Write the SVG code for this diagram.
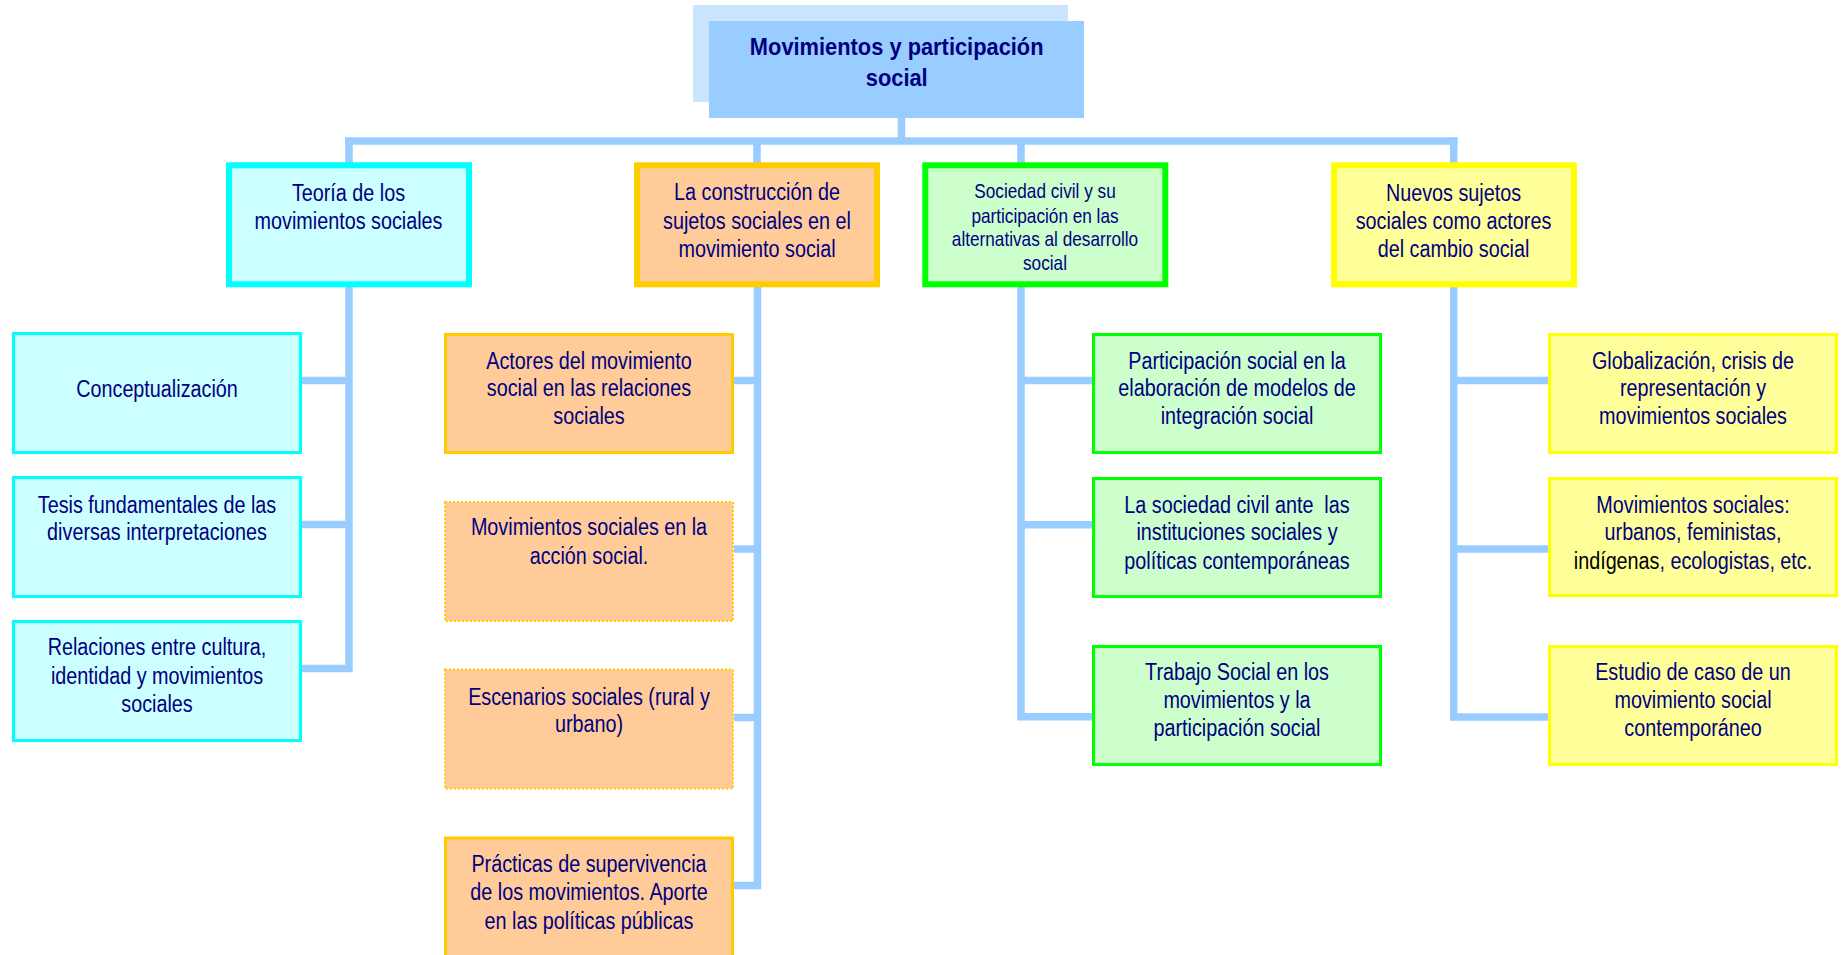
<svg xmlns="http://www.w3.org/2000/svg" width="1847" height="955" viewBox="0 0 1847 955">
<style>
.t{font-family:"Liberation Sans",Arial,sans-serif;font-size:23px;fill:#000080;text-anchor:middle}
.ts{font-size:20px}
.title{font-family:"Liberation Sans",Arial,sans-serif;font-size:23px;font-weight:bold;fill:#000080;text-anchor:middle}
.conn{fill:none;stroke:#99CCFF;stroke-width:7.5;stroke-linejoin:miter;stroke-linecap:butt}
.cyan1{fill:#CCFFFF;stroke:#00FFFF;stroke-width:6}
.cyan2{fill:#CCFFFF;stroke:#00FFFF;stroke-width:3}
.or1{fill:#FFCC99;stroke:#FFCC00;stroke-width:6}
.or2{fill:#FFCC99;stroke:#FFCC00;stroke-width:3}
.ord{fill:#FFCC99;stroke:#FFCC00;stroke-width:2;stroke-dasharray:2 2}
.gr1{fill:#CCFFCC;stroke:#00FF00;stroke-width:6}
.gr2{fill:#CCFFCC;stroke:#00FF00;stroke-width:3}
.ye1{fill:#FFFF99;stroke:#FFFF00;stroke-width:6}
.ye2{fill:#FFFF99;stroke:#FFFF00;stroke-width:3}
</style>
<rect width="1847" height="955" fill="#FFFFFF"/>
<g id="connectors">
<path class="conn" d="M901.5,118 V141"/>
<path class="conn" d="M345,141 H1457.5"/>
<path class="conn" d="M349,137.5 V163 M757,141 V163 M1021,141 V163 M1453.7,137.5 V163"/>
<path class="conn" d="M349,287 V668.5 H302 M302,380.5 H349 M302,524.5 H349"/>
<path class="conn" d="M757.5,287 V885.5 H734 M734,380.5 H757.5 M734,549 H757.5 M734,717.5 H757.5"/>
<path class="conn" d="M1021,287 V720 M1021,380.5 H1092 M1021,524.7 H1092 M1017.25,716.7 H1092"/>
<path class="conn" d="M1453.7,287 V720 M1453.7,380.5 H1548 M1453.7,549 H1548 M1449.95,717 H1548"/>
</g>
<g id="title">
<rect x="693" y="5" width="375" height="97" fill="#CCE5FF"/>
<rect x="709" y="21" width="375" height="97" fill="#99CCFF"/>
<text class="title" transform="translate(896.7 0) scale(0.95 1)"><tspan x="0" y="55">Movimientos y participación</tspan><tspan x="0" y="86">social</tspan></text>
</g>
<g id="n-teoria">
<rect class="cyan1" x="229" y="165.3" width="240" height="119"/>
<text class="t" transform="translate(348.5 0) scale(0.86 1)"><tspan x="0" y="201.3">Teoría de los</tspan><tspan x="0" y="228.7">movimientos sociales</tspan></text>
</g>
<g id="n-construccion">
<rect class="or1" x="637" y="165.3" width="240" height="119"/>
<text class="t" transform="translate(757 0) scale(0.86 1)"><tspan x="0" y="200.3">La construcción de</tspan><tspan x="0" y="228.7">sujetos sociales en el</tspan><tspan x="0" y="257">movimiento social</tspan></text>
</g>
<g id="n-sociedad">
<rect class="gr1" x="925.3" y="165.3" width="240" height="119"/>
<text class="t ts" transform="translate(1045 0) scale(0.86 1)"><tspan x="0" y="198">Sociedad civil y su</tspan><tspan x="0" y="222.7">participación en las</tspan><tspan x="0" y="246">alternativas al desarrollo</tspan><tspan x="0" y="270.3">social</tspan></text>
</g>
<g id="n-nuevos">
<rect class="ye1" x="1334" y="165.3" width="240" height="119"/>
<text class="t" transform="translate(1453.5 0) scale(0.86 1)"><tspan x="0" y="201.3">Nuevos sujetos</tspan><tspan x="0" y="228.7">sociales como actores</tspan><tspan x="0" y="257">del cambio social</tspan></text>
</g>
<g id="n-conceptualizacion">
<rect class="cyan2" x="13.5" y="333.5" width="287" height="119"/>
<text class="t" transform="translate(157 0) scale(0.86 1)" x="0" y="397">Conceptualización</text>
</g>
<g id="n-tesis">
<rect class="cyan2" x="13.5" y="477.5" width="287" height="119"/>
<text class="t" transform="translate(157 0) scale(0.86 1)"><tspan x="0" y="512.7">Tesis fundamentales de las</tspan><tspan x="0" y="540">diversas interpretaciones</tspan></text>
</g>
<g id="n-relaciones">
<rect class="cyan2" x="13.5" y="621.5" width="287" height="119"/>
<text class="t" transform="translate(157 0) scale(0.86 1)"><tspan x="0" y="655.3">Relaciones entre cultura,</tspan><tspan x="0" y="683.7">identidad y movimientos</tspan><tspan x="0" y="712">sociales</tspan></text>
</g>
<g id="n-actores">
<rect class="or2" x="445.5" y="334.5" width="287" height="118"/>
<text class="t" transform="translate(589 0) scale(0.86 1)"><tspan x="0" y="368.7">Actores del movimiento</tspan><tspan x="0" y="396">social en las relaciones</tspan><tspan x="0" y="423.7">sociales</tspan></text>
</g>
<g id="n-accion">
<rect class="ord" x="445" y="502" width="288" height="119"/>
<text class="t" transform="translate(589 0) scale(0.86 1)"><tspan x="0" y="535">Movimientos sociales en la</tspan><tspan x="0" y="563.7">acción social.</tspan></text>
</g>
<g id="n-escenarios">
<rect class="ord" x="445" y="669.5" width="288" height="119"/>
<text class="t" transform="translate(589 0) scale(0.86 1)"><tspan x="0" y="704.7">Escenarios sociales (rural y</tspan><tspan x="0" y="732">urbano)</tspan></text>
</g>
<g id="n-practicas">
<rect class="or2" x="445.5" y="838" width="287" height="125"/>
<text class="t" transform="translate(589 0) scale(0.86 1)"><tspan x="0" y="872">Prácticas de supervivencia</tspan><tspan x="0" y="900">de los movimientos. Aporte</tspan><tspan x="0" y="928.7">en las políticas públicas</tspan></text>
</g>
<g id="n-participacion">
<rect class="gr2" x="1093.5" y="334.5" width="287" height="118"/>
<text class="t" transform="translate(1237 0) scale(0.86 1)"><tspan x="0" y="368.7">Participación social en la</tspan><tspan x="0" y="396">elaboración de modelos de</tspan><tspan x="0" y="423.7">integración social</tspan></text>
</g>
<g id="n-instituciones">
<rect class="gr2" x="1093.5" y="478.5" width="287" height="118"/>
<text class="t" transform="translate(1237 0) scale(0.86 1)"><tspan x="0" y="512.7">La sociedad civil ante&#160; las</tspan><tspan x="0" y="540.3">instituciones sociales y</tspan><tspan x="0" y="568.7">políticas contemporáneas</tspan></text>
</g>
<g id="n-trabajo">
<rect class="gr2" x="1093.5" y="646.5" width="287" height="118"/>
<text class="t" transform="translate(1237 0) scale(0.86 1)"><tspan x="0" y="680.3">Trabajo Social en los</tspan><tspan x="0" y="708">movimientos y la</tspan><tspan x="0" y="736.3">participación social</tspan></text>
</g>
<g id="n-globalizacion">
<rect class="ye2" x="1549.5" y="334.5" width="287" height="118"/>
<text class="t" transform="translate(1693 0) scale(0.86 1)"><tspan x="0" y="368.7">Globalización, crisis de</tspan><tspan x="0" y="396">representación y</tspan><tspan x="0" y="423.7">movimientos sociales</tspan></text>
</g>
<g id="n-tipos">
<rect class="ye2" x="1549.5" y="478.5" width="287" height="117"/>
<text class="t" transform="translate(1693 0) scale(0.86 1)"><tspan x="0" y="512.7">Movimientos sociales:</tspan><tspan x="0" y="540">urbanos, feministas,</tspan><tspan x="0" y="568.7"><tspan fill="#000000">indígenas</tspan>, ecologistas, etc.</tspan></text>
</g>
<g id="n-estudio">
<rect class="ye2" x="1549.5" y="646.5" width="287" height="118"/>
<text class="t" transform="translate(1693 0) scale(0.86 1)"><tspan x="0" y="680">Estudio de caso de un</tspan><tspan x="0" y="708">movimiento social</tspan><tspan x="0" y="736">contemporáneo</tspan></text>
</g>
</svg>
